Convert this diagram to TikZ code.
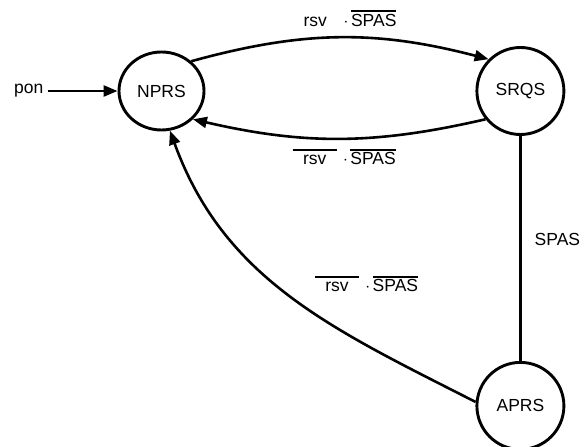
\documentclass[tikz,border=0pt]{standalone}
\usepackage{fontspec}
\setmainfont{Liberation Sans}
\usetikzlibrary{arrows.meta, positioning, shapes.geometric}
\newcommand{\barred}[1]{\leavevmode\vbox{\hrule height 1.8pt\kern 1.8pt\hbox{\vphantom{S}#1}}}
\newcommand{\rsvpad}{\hspace{0.6em}rsv\hspace{0.6em}}

\begin{document}
\begin{tikzpicture}[
  x=1pt, y=1pt,
  ST/.style ={draw, ellipse, line width=2.9pt, minimum width=87pt, minimum height=87pt,
              inner sep=0pt, font=\fontsize{17.5}{20}\selectfont},
  LB/.style ={inner sep=1pt, font=\fontsize{17.5}{20}\selectfont},
  AR/.style ={-{Triangle[length=14pt,width=11pt]}, line width=2.6pt},
  node distance=70pt
]
  \useasboundingbox (0,0) rectangle (584,447);
  \node[ST, minimum width=85pt, minimum height=78pt] (nprs) at (161.5,356) {NPRS};
  \node[ST, right=270pt of nprs] (srqs) {SRQS};
  \node[ST, below=225pt of srqs] (aprs) {APRS};
  \node[LB, inner sep=4pt, left=of nprs] (pon) {pon};

  \draw[AR] (pon) -- (nprs);
  \draw[AR] (nprs.45) to[bend left=15]
    node[LB, above=9pt, xshift=5pt] {\rsvpad\hspace{0.35em}$\cdot$\hspace{0.15em}\barred{SPAS}} (srqs.135);
  \draw[AR] (srqs.219) to[bend left=13]
    node[LB, below=8pt, xshift=5pt] {\barred{\rsvpad}\hspace{0.35em}$\cdot$\hspace{0.15em}\barred{SPAS}} (nprs.-42);
  \draw[line width=2.6pt] (srqs) -- node[LB, pos=0.46, right=12pt] {SPAS} (aprs);
  \draw[AR] (aprs.175) to[out=153, in=-70] (nprs.-78);
  \node[LB, anchor=base] (lbl) at (366.5,155)
    {\barred{\rsvpad}\hspace{0.35em}$\cdot$\hspace{0.15em}\barred{SPAS}};
\end{tikzpicture}
\end{document}
